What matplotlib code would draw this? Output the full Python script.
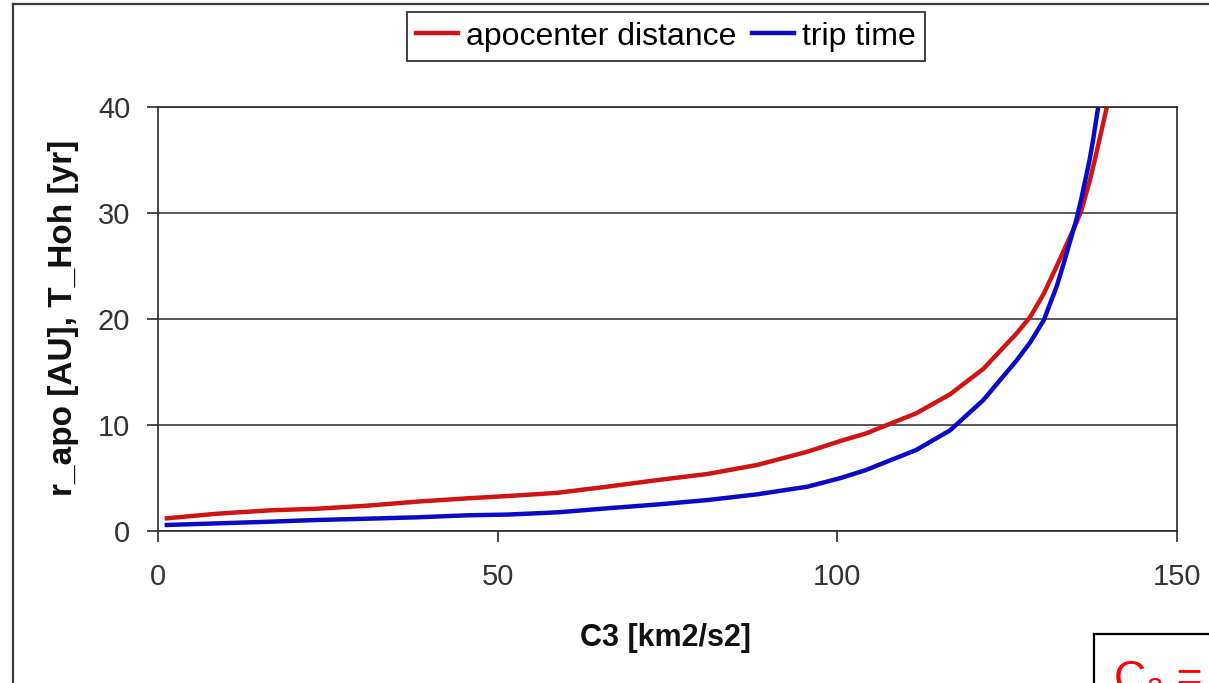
import matplotlib
matplotlib.use("Agg")
import matplotlib.pyplot as plt
from matplotlib.lines import Line2D

plt.rcParams['font.family'] = ['Liberation Sans', 'DejaVu Sans']

# Data
c3 = [1.3, 8.7, 16.5, 23.4, 30.8, 38.1, 45.5, 51.5, 58.8, 66.1, 73.5, 80.9,
      88.2, 95.6, 100.5, 104.2, 106.7, 111.6, 116.6, 121.5, 126.4, 128.4,
      130.4, 132.3, 133.3, 135.2, 135.9, 137.1, 137.6, 138.4, 139.6, 140.3]
r_apo = [1.2, 1.63, 1.95, 2.1, 2.39, 2.77, 3.08, 3.3, 3.6, 4.18, 4.8, 5.38,
         6.23, 7.48, 8.5, 9.2, 9.84, 11.1, 12.9, 15.3, 18.65, 20.2,
         22.4, 25.0, 26.4, 29.1, 30.2, 32.9, 34.2, 36.4, 39.8, 42.0]
t_hoh = [0.57, 0.72, 0.88, 1.04, 1.16, 1.29, 1.48, 1.55, 1.76, 2.14, 2.5, 2.92,
         3.46, 4.18, 5.0, 5.75, 6.39, 7.64, 9.5, 12.36, 16.1, 17.8,
         19.9, 23.1, 25.2, 29.4, 31.3, 34.9, 36.7, 40.0, 45.2, 48.0]
series_names = ["apocenter distance", "trip time"]
x_ticks = [0, 50, 100, 150]
y_ticks = [0, 10, 20, 30, 40]

W, H = 1209, 683
fig = plt.figure(figsize=(W / 100, H / 100), dpi=100)
fig.patch.set_facecolor("white")

ax = fig.add_axes([158 / W, 1 - 531 / H, (1177 - 158) / W, (531 - 107) / H])
red = "#d01414"
blue = "#0a0ac8"
ax.plot(c3, r_apo, color=red, lw=3.2, label=series_names[0], solid_joinstyle="round")
ax.plot(c3, t_hoh, color=blue, lw=3.2, label=series_names[1], solid_joinstyle="round")

ax.set_xlim(0, 150)
ax.set_ylim(0, 40)
ax.set_xticks(x_ticks)
ax.set_yticks(y_ticks)
ax.yaxis.grid(True, color="#3c3c3c", lw=1.2)
ax.xaxis.grid(False)
ax.set_axisbelow(True)
for s in ax.spines.values():
    s.set_color("#2a2a2a")
    s.set_linewidth(1.2)
ax.tick_params(axis="both", direction="out", length=8, width=1.2, color="#2a2a2a",
               labelsize=21, labelcolor="#333333")
ax.tick_params(axis="y", pad=12)
ax.tick_params(axis="x", pad=15)

fig.text(64 / W, 1 - 318 / H, "r_apo [AU], T_Hoh [yr]", rotation=90,
         ha="center", va="center", fontsize=24, fontweight="bold", color="#111111")
fig.text(665 / W, 1 - 646 / H, "C3 [km2/s2]", ha="center", va="baseline",
         fontsize=22, fontweight="bold", color="#111111")

leg = fig.legend(loc="upper center", bbox_to_anchor=(666 / W, 1 - 12 / H), ncol=2,
                 fontsize=23, frameon=True, fancybox=False, handlelength=1.3,
                 handletextpad=0.25, columnspacing=0.5, borderpad=0.3,
                 borderaxespad=0)
leg.get_frame().set_edgecolor("#111111")
leg.get_frame().set_linewidth(1.4)

# outer chart border (partially cropped in the reference)
fig.add_artist(Line2D([13 / W, 13 / W], [0, 1 - 4 / H], transform=fig.transFigure,
                      color="#3a3a3a", lw=1.6))
fig.add_artist(Line2D([13 / W, 1], [1 - 4 / H, 1 - 4 / H], transform=fig.transFigure,
                      color="#3a3a3a", lw=1.6))

# cropped box at bottom right
fig.add_artist(Line2D([1094 / W, 1094 / W], [0, 1 - 634 / H], transform=fig.transFigure,
                      color="black", lw=1.6))
fig.add_artist(Line2D([1094 / W, 1], [1 - 634 / H, 1 - 634 / H], transform=fig.transFigure,
                      color="black", lw=1.6))
fig.text(1114 / W, 1 - 692 / H, "C₃ =", color="#ff0000", fontsize=32,
         ha="left", va="baseline")

fig.savefig("out.png", dpi=100, facecolor="white")
